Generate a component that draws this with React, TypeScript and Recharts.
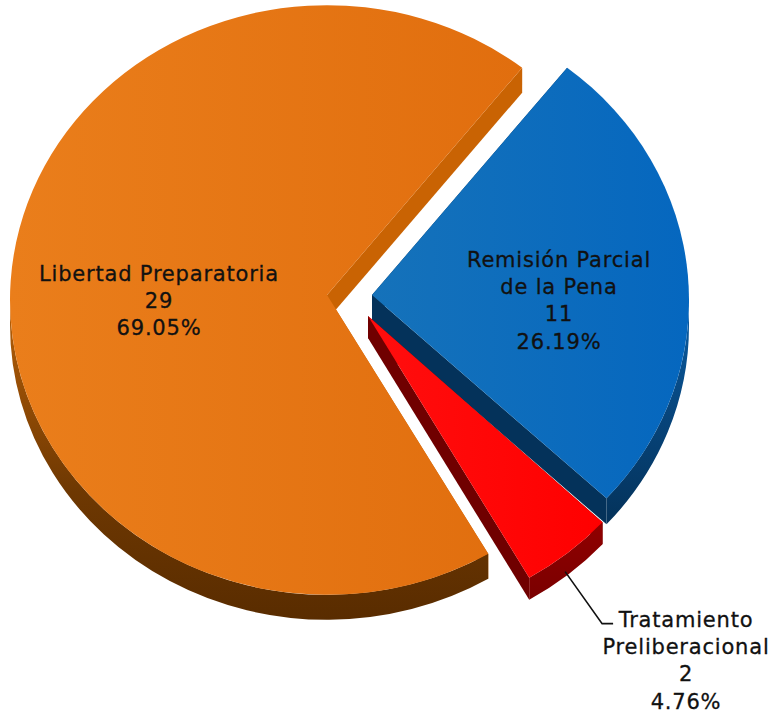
import { PieChart, Pie } from "recharts";

const categories = ["Remisión Parcial de la Pena", "Tratamiento Preliberacional", "Libertad Preparatoria"];
const values = [11, 2, 29];

const data = categories.map((name, i) => ({ name, value: values[i] }));

// per slice look: explode offset from the pie centre, colours and label placement
const LOOK: Record<string, any> = {
  "Remisión Parcial de la Pena": { dx: 45, dy: 0, lift: 5, depth: 26, top: "topBlue", rim: "rimBlue", side: "#04325A", lx: 559, ly: 267, lines: ["Remisión Parcial", "de la Pena"] },
  "Tratamiento Preliberacional": { dx: 41, dy: 24, lift: 8, depth: 22, top: "topRed", rim: "rimRed", side: "#700000", lx: 686, ly: 627, lines: ["Tratamiento", "Preliberacional"] },
  "Libertad Preparatoria": { dx: 0, dy: 0, lift: 5, depth: 25, top: "topOrange", rim: "rimOrange", side: "#C96303", lx: 159, ly: 281, lines: ["Libertad Preparatoria"] },
};

const SQUASH = 0.93;
const RAD = Math.PI / 180;

function Slice(props: any) {
  const { cx, cy, outerRadius, startAngle, endAngle, name } = props;
  const look = LOOK[name];
  const rx = outerRadius;
  const ry = outerRadius * SQUASH;
  const x0 = cx + look.dx;
  const y0 = cy + look.dy;
  const depth = look.depth;
  const pt = (a: number) => [x0 + rx * Math.cos(a * RAD), y0 - ry * Math.sin(a * RAD)];
  const ax = x0;
  const ay = y0 - look.lift;
  const [sx, sy] = pt(startAngle);
  const [ex, ey] = pt(endAngle);
  const large = Math.abs(startAngle - endAngle) > 180 ? 1 : 0;
  const top = `M${ax},${ay} L${sx},${sy} A${rx},${ry} 0 ${large} 1 ${ex},${ey} Z`;

  // side faces of both cut edges, the top face hides whichever one faces away
  const side = (x: number, y: number) =>
    `M${ax},${ay} L${x},${y} L${x},${y + depth} L${ax},${ay + depth} Z`;

  // outer wall, only the part on the lower half of the ellipse shows
  const wallFrom = Math.min(startAngle, 0);
  const wallTo = Math.max(endAngle, -180);
  const [w1x, w1y] = pt(wallFrom);
  const [w2x, w2y] = pt(wallTo);
  const wall = `M${w1x},${w1y} A${rx},${ry} 0 0 1 ${w2x},${w2y} L${w2x},${w2y + depth} A${rx},${ry} 0 0 0 ${w1x},${w1y + depth} Z`;

  return (
    <g>
      <path d={side(sx, sy)} fill={look.side} />
      <path d={side(ex, ey)} fill={look.side} />
      <path d={wall} fill={`url(#${look.rim})`} />
      <path d={top} fill={`url(#${look.top})`} />
    </g>
  );
}

function SliceLabel(props: any) {
  const { cx, cy, outerRadius, midAngle, name, value, percent } = props;
  const look = LOOK[name];
  const rows = [...look.lines, String(value), `${(percent * 100).toFixed(2)}%`];
  const isOutside = name === "Tratamiento Preliberacional";
  const mx = cx + look.dx + outerRadius * Math.cos(midAngle * RAD);
  const my = cy + look.dy - outerRadius * SQUASH * Math.sin(midAngle * RAD) + look.depth;
  return (
    <g>
      {isOutside && (
        <polyline
          points={`${mx - 3},${my - 3} ${mx + 34},${my + 49} ${mx + 45},${my + 49}`}
          fill="none"
          stroke="#111"
          strokeWidth={1.6}
        />
      )}
      <text
        x={look.lx}
        y={look.ly}
        textAnchor="middle"
        fontFamily="'DejaVu Sans', sans-serif"
        fontSize={21}
        letterSpacing={0.8}
        fill="#111"
        stroke="#111"
        strokeWidth={0.3}
      >
        {rows.map((r, i) => (
          <tspan key={i} x={look.lx} dy={i === 0 ? 0 : 27.2}>{r}</tspan>
        ))}
      </text>
    </g>
  );
}

export default function App() {
  return (
    <div style={{ position: "absolute", left: 0, top: 0, width: 774, height: 714 }}>
      <PieChart width={774} height={714} margin={{ top: 0, right: 0, bottom: 0, left: 0 }}>
        <defs>
          <linearGradient id="topOrange" x1="0" y1="0" x2="1" y2="0">
            <stop offset="0" stopColor="#EA7E1B" />
            <stop offset="1" stopColor="#E16E0E" />
          </linearGradient>
          <linearGradient id="topBlue" x1="0" y1="0" x2="1" y2="0">
            <stop offset="0" stopColor="#1572BA" />
            <stop offset="1" stopColor="#0567BF" />
          </linearGradient>
          <linearGradient id="topRed" x1="0" y1="0" x2="1" y2="0">
            <stop offset="0" stopColor="#FF0E0E" />
            <stop offset="1" stopColor="#FF0000" />
          </linearGradient>
          <linearGradient id="rimOrange" x1="0" y1="0" x2="0" y2="1">
            <stop offset="0" stopColor="#B86008" />
            <stop offset="0.6" stopColor="#6E3802" />
            <stop offset="1" stopColor="#592C00" />
          </linearGradient>
          <linearGradient id="rimBlue" x1="0" y1="0" x2="0" y2="1">
            <stop offset="0" stopColor="#0A5EA6" />
            <stop offset="0.5" stopColor="#07457C" />
            <stop offset="1" stopColor="#04325A" />
          </linearGradient>
          <linearGradient id="rimRed" x1="0" y1="0" x2="0" y2="1">
            <stop offset="0" stopColor="#900000" />
            <stop offset="1" stopColor="#7A0000" />
          </linearGradient>
        </defs>
        <Pie
          data={data}
          dataKey="value"
          nameKey="name"
          cx={327}
          cy={300}
          innerRadius={0}
          outerRadius={317}
          startAngle={52}
          endAngle={-308}
          stroke="none"
          isAnimationActive={false}
          shape={Slice}
          label={SliceLabel}
          labelLine={false}
        />
      </PieChart>
    </div>
  );
}
